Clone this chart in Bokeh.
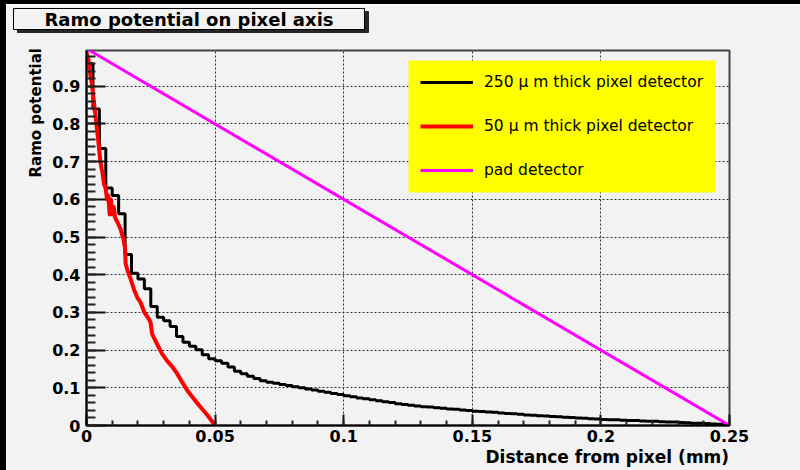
import math

from bokeh.embed import file_html
from bokeh.layouts import column, row
from bokeh.models import (BoxAnnotation, FixedTicker, Label, Legend, LegendItem,
                          Range1d, Spacer)
from bokeh.plotting import figure
from bokeh.resources import INLINE

# --- data -----------------------------------------------------------------
# 250 um thick pixel detector: histogram with 100 bins of 0.0025 mm
bin_width = 0.0025
pix250_values = [
    0.960, 0.840, 0.735, 0.630, 0.610, 0.562, 0.454, 0.404, 0.389, 0.363,
    0.316, 0.287, 0.278, 0.263, 0.236, 0.221, 0.210, 0.201, 0.188, 0.177,
    0.172, 0.165, 0.155, 0.144, 0.137, 0.131, 0.125, 0.119, 0.115, 0.112,
    0.109, 0.106, 0.103, 0.100, 0.097, 0.094, 0.091, 0.088, 0.085, 0.082,
    0.079, 0.076, 0.073, 0.071, 0.068, 0.066, 0.063, 0.061, 0.058, 0.056,
    0.054, 0.052, 0.050, 0.049, 0.047, 0.046, 0.044, 0.043, 0.041, 0.040,
    0.038, 0.037, 0.036, 0.035, 0.033, 0.032, 0.031, 0.030, 0.028, 0.027,
    0.026, 0.025, 0.024, 0.023, 0.022, 0.021, 0.020, 0.019, 0.018, 0.017,
    0.016, 0.015, 0.015, 0.014, 0.013, 0.013, 0.012, 0.011, 0.011, 0.010,
    0.009, 0.009, 0.008, 0.007, 0.006, 0.006, 0.005, 0.004, 0.003, 0.002,
]

# 50 um thick pixel detector: simulated curve
pix50_x = [
    0.0000, 0.0008, 0.0015, 0.0022, 0.0030, 0.0037, 0.0045, 0.0054, 0.0062,
    0.0068, 0.0074, 0.0080, 0.0085, 0.0090, 0.0095, 0.0100, 0.0106, 0.0112,
    0.0120, 0.0133, 0.0145, 0.0150, 0.0152, 0.0160, 0.0171, 0.0185, 0.0197,
    0.0210, 0.0225, 0.0240, 0.0249, 0.0255, 0.0275, 0.0294, 0.0315, 0.0335,
    0.0353, 0.0372, 0.0392, 0.0418, 0.0443, 0.0472, 0.0500,
]
pix50_y = [
    0.990, 0.970, 0.930, 0.900, 0.850, 0.810, 0.760, 0.700, 0.670,
    0.640, 0.630, 0.600, 0.610, 0.560, 0.600, 0.560, 0.580, 0.550,
    0.540, 0.520, 0.490, 0.470, 0.430, 0.410, 0.390, 0.360, 0.340,
    0.327, 0.300, 0.285, 0.274, 0.243, 0.215, 0.190, 0.170, 0.155,
    0.137, 0.115, 0.093, 0.070, 0.049, 0.026, 0.000,
]

# pad detector: linear weighting potential
pad_x = [0.0, 0.25]
pad_y = [1.0, 0.0]

x_ticks = [0.0, 0.05, 0.1, 0.15, 0.2, 0.25]
x_tick_labels = ["0", "0.05", "0.1", "0.15", "0.2", "0.25"]
x_minor_ticks = [i * 0.01 for i in range(26)]
y_ticks = [0.0, 0.1, 0.2, 0.3, 0.4, 0.5, 0.6, 0.7, 0.8, 0.9]
y_tick_labels = ["0", "0.1", "0.2", "0.3", "0.4", "0.5", "0.6", "0.7", "0.8", "0.9"]
y_minor_ticks = [i * 0.02 for i in range(50)]

X_MAX = 0.25
Y_MAX = 0.995

# --- geometry (page pixels) ------------------------------------------------
PAGE_W, PAGE_H = 800, 470
EDGE_TOP, EDGE_LEFT = 4, 6
FIG_W, FIG_H = PAGE_W - EDGE_LEFT, PAGE_H - EDGE_TOP
FRAME_L, FRAME_R, FRAME_T, FRAME_B = 86, 729, 50, 425


def fx(px):
    """page x pixel -> data x"""
    return (px - FRAME_L) / (FRAME_R - FRAME_L) * X_MAX


def fy(py):
    """page y pixel -> data y"""
    return (FRAME_B - py) / (FRAME_B - FRAME_T) * Y_MAX


BG = "#f2f2f2"
BOLD_FONT = "DejaVu Sans"

p = figure(
    width=FIG_W, height=FIG_H,
    x_range=Range1d(0, X_MAX), y_range=Range1d(0, Y_MAX),
    output_backend="svg", toolbar_location=None, title=None,
    min_border_left=FRAME_L - EDGE_LEFT,
    min_border_right=FIG_W - (FRAME_R - EDGE_LEFT),
    min_border_top=FRAME_T - EDGE_TOP,
    min_border_bottom=FIG_H - (FRAME_B - EDGE_TOP),
)
p.background_fill_color = BG
p.border_fill_color = BG
p.outline_line_color = "#444444"
p.outline_line_width = 2

# axes
p.xaxis.ticker = FixedTicker(ticks=x_ticks, minor_ticks=x_minor_ticks)
p.yaxis.ticker = FixedTicker(ticks=y_ticks, minor_ticks=y_minor_ticks)
p.xaxis.major_label_overrides = dict(zip(x_ticks, x_tick_labels))
p.yaxis.major_label_overrides = dict(zip(y_ticks, y_tick_labels))
for ax in (p.xaxis, p.yaxis):
    ax.axis_line_color = "black"
    ax.axis_line_width = 2
    ax.major_tick_out = 0
    ax.minor_tick_out = 0
    ax.major_tick_line_color = "#111111"
    ax.minor_tick_line_color = "#222222"
    ax.major_tick_line_width = 2
    ax.minor_tick_line_width = 2
    ax.major_label_text_font = BOLD_FONT
    ax.major_label_text_font_style = "bold"
    ax.major_label_text_font_size = "16px"
    ax.major_label_text_color = "black"
p.yaxis.major_tick_in = 19
p.yaxis.minor_tick_in = 9
p.xaxis.major_tick_in = 11
p.xaxis.minor_tick_in = 5
p.yaxis.major_label_standoff = 6
p.xaxis.major_label_standoff = 4

# grid
p.xgrid.ticker = FixedTicker(ticks=x_ticks)
p.ygrid.ticker = FixedTicker(ticks=y_ticks)
for g in (p.xgrid, p.ygrid):
    g.grid_line_color = "#333333"
    g.grid_line_dash = "2 2"
    g.grid_line_width = 1

# curves
edges = [i * bin_width for i in range(len(pix250_values) + 1)]
r250 = p.step(edges, pix250_values + [pix250_values[-1]], mode="after",
              line_color="black", line_width=3)
r50 = p.line(pix50_x, pix50_y, line_color="#ff0000", line_width=4,
             line_join="round")
rpad = p.line(pad_x, pad_y, line_color="#ff00ff", line_width=3)

# legend: yellow panel plus the entries on top of it
p.add_layout(BoxAnnotation(left=fx(408), right=fx(715), top=fy(60), bottom=fy(192),
                           fill_color="#ffff00", fill_alpha=1.0, line_color=None))
legend = Legend(
    items=[
        LegendItem(label="250 μ m thick pixel detector", renderers=[r250]),
        LegendItem(label="50 μ m thick pixel detector", renderers=[r50]),
        LegendItem(label="pad detector", renderers=[rpad]),
    ],
    location=(420 - FRAME_L, FRAME_B - 180),
    orientation="vertical",
    padding=0, spacing=24, margin=0,
    glyph_width=53, glyph_height=20, label_height=20, label_standoff=11,
    background_fill_alpha=0.0, border_line_color=None,
    label_text_font="DejaVu Sans", label_text_font_size="15.5px",
    label_text_color="black",
)
p.add_layout(legend, "center")

# title box with drop shadow (outside the frame, so kept in a side panel)
title_text = "Ramo potential on pixel axis"
SHADOW = "#262626"
shadow = Label(x=fx(192.5), y=fy(21.5), text=title_text, text_color=SHADOW,
               text_align="center", text_baseline="middle",
               text_font=BOLD_FONT, text_font_style="bold", text_font_size="18px",
               background_fill_color=SHADOW, background_fill_alpha=1.0,
               border_line_color=SHADOW, border_line_width=1,
               padding=(31, 0))
title = Label(x=fx(188.5), y=fy(18.5), text=title_text, text_color="black",
              text_align="center", text_baseline="middle",
              text_font=BOLD_FONT, text_font_style="bold", text_font_size="18px",
              background_fill_color=BG, background_fill_alpha=1.0,
              border_line_color="black", border_line_width=1,
              padding=(31, 0))
p.add_layout(shadow, "above")
p.add_layout(title, "above")

# axis titles, anchored at their start
p.add_layout(Label(x=fx(485), y=fy(456), text="Distance from pixel (mm)",
                   text_align="left", text_baseline="middle",
                   text_font=BOLD_FONT, text_font_style="bold",
                   text_font_size="17px", text_color="black"), "below")
p.add_layout(Label(x=fx(35), y=fy(177), text="Ramo potential", angle=math.pi / 2,
                   text_align="left", text_baseline="middle",
                   text_font=BOLD_FONT, text_font_style="bold",
                   text_font_size="15px", text_color="black"), "left")

# dark canvas edges on the top and left
top_edge = Spacer(width=PAGE_W, height=EDGE_TOP, styles={"background-color": "black"})
left_edge = Spacer(width=EDGE_LEFT, height=FIG_H, styles={"background-color": "black"})
page = column(top_edge, row(left_edge, p, spacing=0), spacing=0)

open("out.html", "w").write(file_html(page, INLINE))
